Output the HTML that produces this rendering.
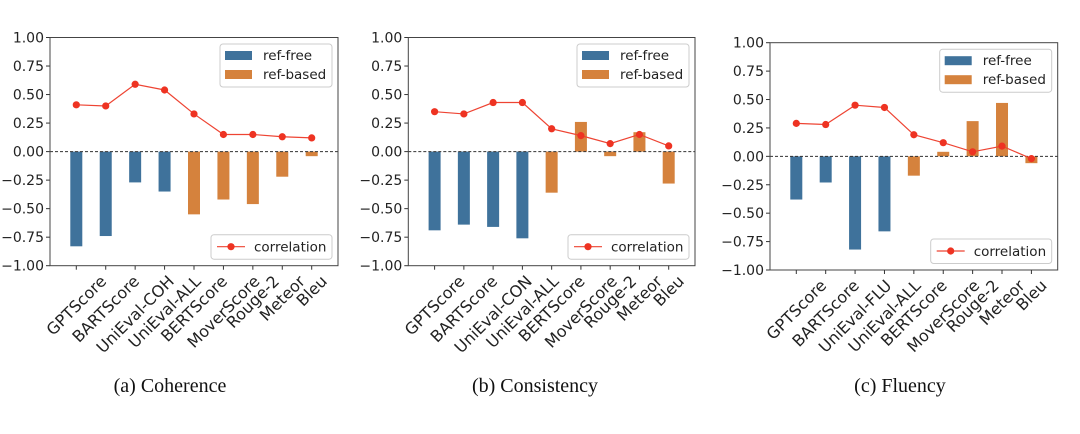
<!DOCTYPE html>
<html><head><meta charset="utf-8"><style>
body{margin:0;background:#fff;width:1080px;height:434px;overflow:hidden}
svg{display:block}
text{font-family:"DejaVu Sans","Liberation Sans",sans-serif;fill:#222}
.cap{font-family:"Liberation Serif",serif;font-size:20px;fill:#111}
</style></head><body>
<svg id="fig" width="1080" height="434"></svg>
<script>
const metricsA = ["GPTScore","BARTScore","UniEval-COH","UniEval-ALL","BERTScore","MoverScore","Rouge-2","Meteor","Bleu"];
const metricsB = ["GPTScore","BARTScore","UniEval-CON","UniEval-ALL","BERTScore","MoverScore","Rouge-2","Meteor","Bleu"];
const metricsC = ["GPTScore","BARTScore","UniEval-FLU","UniEval-ALL","BERTScore","MoverScore","Rouge-2","Meteor","Bleu"];
const barsA = [-0.83,-0.74,-0.27,-0.35,-0.55,-0.42,-0.46,-0.22,-0.04];
const corrA = [0.41,0.40,0.59,0.54,0.33,0.15,0.15,0.13,0.12];
const barsB = [-0.69,-0.64,-0.66,-0.76,-0.36,0.26,-0.04,0.17,-0.28];
const corrB = [0.35,0.33,0.43,0.43,0.20,0.14,0.07,0.15,0.05];
const barsC = [-0.38,-0.23,-0.82,-0.66,-0.17,0.04,0.31,0.47,-0.06];
const corrC = [0.29,0.28,0.45,0.43,0.19,0.12,0.04,0.09,-0.02];
const refFree = [1,1,1,1,0,0,0,0,0];
const yTicks = ["1.00","0.75","0.50","0.25","0.00","-0.25","-0.50","-0.75","-1.00"];
const captions = ["(a) Coherence","(b) Consistency","(c) Fluency"];

const NS="http://www.w3.org/2000/svg";
const svg=document.getElementById('fig');
function mk(tag,attrs,parent){const e=document.createElementNS(NS,tag);for(const k in attrs)e.setAttribute(k,attrs[k]);(parent||svg).appendChild(e);return e;}

const panels=[
 {L:50,R:338,T:37.5,B:265.7,names:metricsA,bars:barsA,corr:corrA,cx:170,id:'coherence'},
 {L:408.3,R:695,T:37.5,B:265.7,names:metricsB,bars:barsB,corr:corrB,cx:535,id:'consistency'},
 {L:770,R:1057.7,T:42.7,B:270,names:metricsC,bars:barsC,corr:corrC,cx:900,id:'fluency'}
];
panels.forEach((p,pi)=>{
 const g=mk('g',{});
 
 
 const n=p.names.length;
 const x0=p.L+26.3, step=(p.R-p.L-52.6)/(n-1);
 const xs=i=>x0+i*step;
 const ys=v=>p.T+(1-v)/2*(p.B-p.T);
 yTicks.forEach(t=>{const v=parseFloat(t);const y=ys(v);
  mk('line',{x1:p.L-4,x2:p.L,y1:y,y2:y,stroke:'#333','stroke-width':1},g);
  const tx=mk('text',{x:p.L-6,y:y+5,'text-anchor':'end','font-size':14},g);tx.textContent=t.replace('-','\u2212');
  
  
 });
 p.bars.forEach((v,i)=>{
  const y0=ys(0),y1=ys(v);
  const r=mk('rect',{x:xs(i)-6,y:Math.min(y0,y1),width:12,height:Math.abs(y1-y0),fill:refFree[i]?'#3f729b':'#d5823d'},g);
  
  
 });
 mk('line',{x1:p.L,x2:p.R,y1:ys(0),y2:ys(0),stroke:'#333','stroke-width':1,'stroke-dasharray':'3,2'},g);
 const pts=p.corr.map((v,i)=>xs(i)+','+ys(v)).join(' ');
 const pl=mk('polyline',{points:pts,fill:'none',stroke:'#ee4433','stroke-width':1.2},g);
 
 
 p.corr.forEach((v,i)=>{const c=mk('circle',{cx:xs(i),cy:ys(v),r:3.6,fill:'#ee3322'},g);
  
  });
 mk('rect',{x:p.L,y:p.T,width:p.R-p.L,height:p.B-p.T,fill:'none',stroke:'#444','stroke-width':1},g);
 p.names.forEach((nm,i)=>{const x=xs(i);
  mk('line',{x1:x,x2:x,y1:p.B,y2:p.B+4,stroke:'#333'},g);
  const t=mk('text',{x:0,y:0,'text-anchor':'middle','dominant-baseline':'central','font-size':16},g);
  t.textContent=nm;
  
  
  const L=t.getComputedTextLength();
  const h=(L+16)*0.7071;
  const cy=p.B+7+h/2;
  t.setAttribute('transform',`translate(${x} ${cy}) rotate(-45)`);
 });
 const lg=mk('g',{},g);
 
 
 const lx=p.R-118, ly=p.T+6.5;
 mk('rect',{x:lx,y:ly,width:112,height:43,rx:3,fill:'#fff',stroke:'#ccc'},lg);
 mk('rect',{x:lx+5,y:ly+7,width:27,height:9,fill:'#3f729b'},lg);
 mk('rect',{x:lx+5,y:ly+26,width:27,height:9,fill:'#d5823d'},lg);
 let t=mk('text',{x:lx+43,y:ly+16,'font-size':13.5},lg);t.textContent='ref-free';
 t=mk('text',{x:lx+43,y:ly+35,'font-size':13.5},lg);t.textContent='ref-based';
 const lg2=mk('g',{},g);
 
 
 const by=p.B-31;
 mk('rect',{x:lx-9,y:by,width:121,height:24.5,rx:3,fill:'#fff',stroke:'#ccc'},lg2);
 mk('line',{x1:lx-3,x2:lx+25,y1:by+12,y2:by+12,stroke:'#ee4433','stroke-width':1.2},lg2);
 mk('circle',{cx:lx+11,cy:by+12,r:3.6,fill:'#ee3322'},lg2);
 t=mk('text',{x:lx+34,y:by+17,'font-size':13.5},lg2);t.textContent='correlation';
 const c=mk('text',{x:p.cx,y:392,'text-anchor':'middle',class:'cap'});c.textContent=captions[pi];
 
 
});
</script>
</body></html>
